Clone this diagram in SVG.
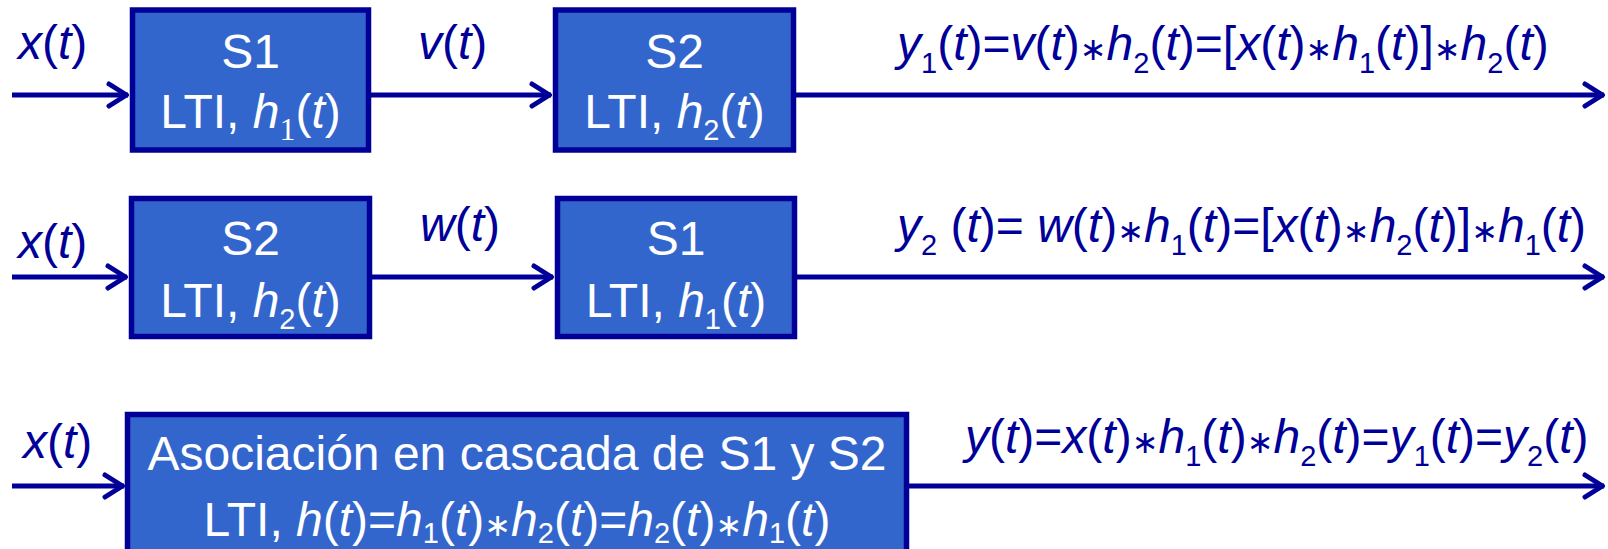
<svg xmlns="http://www.w3.org/2000/svg" width="1608" height="549" viewBox="0 0 1608 549">
<defs>
<style>
.box{fill:#3366cc;stroke:#000099;stroke-width:5.5}
.t{font-family:"Liberation Sans",Arial,sans-serif;font-size:48px}
.lbl{fill:#000099}
.bt{fill:#ffffff;text-anchor:middle}
.i{font-style:italic}
.s{font-size:29px}
.a{font-family:"DejaVu Sans",sans-serif;font-size:32px}
.ser{font-family:"Liberation Serif","Times New Roman",serif;font-size:32px}
.wire{fill:none;stroke:#000099;stroke-width:5;marker-end:url(#arr)}
</style>
<marker id="arr" markerUnits="userSpaceOnUse" markerWidth="30" markerHeight="30" viewBox="-26 -15 30 30" refX="0" refY="0" orient="auto">
<path d="M-19,-11 L-1.5,0 L-19,11" fill="none" stroke="#000099" stroke-width="5" stroke-linecap="round" stroke-linejoin="round"/>
</marker>
</defs>

<g id="connectors">
<line class="wire" x1="12" y1="95" x2="128" y2="95"/>
<line class="wire" x1="371" y1="95" x2="551" y2="95"/>
<line class="wire" x1="796" y1="95" x2="1604" y2="95"/>
<line class="wire" x1="12" y1="277" x2="127" y2="277"/>
<line class="wire" x1="372" y1="277" x2="553" y2="277"/>
<line class="wire" x1="797" y1="277" x2="1604" y2="277"/>
<line class="wire" x1="12" y1="486" x2="124" y2="486"/>
<line class="wire" x1="909" y1="486" x2="1604" y2="486"/>
</g>

<g id="labels">
<text class="t lbl" x="18" y="59"><tspan class="i">x</tspan>(<tspan class="i">t</tspan>)</text>
<text class="t lbl" x="418" y="59"><tspan class="i">v</tspan>(<tspan class="i">t</tspan>)</text>
<text class="t lbl" x="897" y="60"><tspan class="i">y</tspan><tspan class="s" dy="13">1</tspan><tspan dy="-13">(</tspan><tspan class="i">t</tspan>)=<tspan class="i">v</tspan>(<tspan class="i">t</tspan>)<tspan class="a">∗</tspan><tspan class="i">h</tspan><tspan class="s" dy="13">2</tspan><tspan dy="-13">(</tspan><tspan class="i">t</tspan>)=[<tspan class="i">x</tspan>(<tspan class="i">t</tspan>)<tspan class="a">∗</tspan><tspan class="i">h</tspan><tspan class="s" dy="13">1</tspan><tspan dy="-13">(</tspan><tspan class="i">t</tspan>)]<tspan class="a">∗</tspan><tspan class="i">h</tspan><tspan class="s" dy="13">2</tspan><tspan dy="-13">(</tspan><tspan class="i">t</tspan>)</text>

<text class="t lbl" x="18" y="258"><tspan class="i">x</tspan>(<tspan class="i">t</tspan>)</text>
<text class="t lbl" x="420" y="241"><tspan class="i">w</tspan>(<tspan class="i">t</tspan>)</text>
<text class="t lbl" x="897" y="242" xml:space="preserve"><tspan class="i">y</tspan><tspan class="s" dy="13">2</tspan><tspan dy="-13"> (</tspan><tspan class="i">t</tspan>)= <tspan class="i">w</tspan>(<tspan class="i">t</tspan>)<tspan class="a">∗</tspan><tspan class="i">h</tspan><tspan class="s" dy="13">1</tspan><tspan dy="-13">(</tspan><tspan class="i">t</tspan>)=[<tspan class="i">x</tspan>(<tspan class="i">t</tspan>)<tspan class="a">∗</tspan><tspan class="i">h</tspan><tspan class="s" dy="13">2</tspan><tspan dy="-13">(</tspan><tspan class="i">t</tspan>)]<tspan class="a">∗</tspan><tspan class="i">h</tspan><tspan class="s" dy="13">1</tspan><tspan dy="-13">(</tspan><tspan class="i">t</tspan>)</text>

<text class="t lbl" x="23" y="458"><tspan class="i">x</tspan>(<tspan class="i">t</tspan>)</text>
<text class="t lbl" x="965" y="453"><tspan class="i">y</tspan>(<tspan class="i">t</tspan>)=<tspan class="i">x</tspan>(<tspan class="i">t</tspan>)<tspan class="a">∗</tspan><tspan class="i">h</tspan><tspan class="s" dy="13">1</tspan><tspan dy="-13">(</tspan><tspan class="i">t</tspan>)<tspan class="a">∗</tspan><tspan class="i">h</tspan><tspan class="s" dy="13">2</tspan><tspan dy="-13">(</tspan><tspan class="i">t</tspan>)=<tspan class="i">y</tspan><tspan class="s" dy="13">1</tspan><tspan dy="-13">(</tspan><tspan class="i">t</tspan>)=<tspan class="i">y</tspan><tspan class="s" dy="13">2</tspan><tspan dy="-13">(</tspan><tspan class="i">t</tspan>)</text>
</g>

<g id="r1-s1">
<rect class="box" x="132.5" y="10" width="236" height="140"/>
<text class="t bt" x="250.5" y="68">S1</text>
<text class="t bt" x="250.5" y="128">LTI, <tspan class="i">h</tspan><tspan class="ser" dy="12">1</tspan><tspan dy="-12">(</tspan><tspan class="i">t</tspan>)</text>
</g>

<g id="r1-s2">
<rect class="box" x="555.5" y="10" width="238" height="140"/>
<text class="t bt" x="674.5" y="68">S2</text>
<text class="t bt" x="674.5" y="128">LTI, <tspan class="i">h</tspan><tspan class="s" dy="12">2</tspan><tspan dy="-12">(</tspan><tspan class="i">t</tspan>)</text>
</g>

<g id="r2-s2">
<rect class="box" x="131.5" y="198.5" width="238" height="138"/>
<text class="t bt" x="250.5" y="255">S2</text>
<text class="t bt" x="250.5" y="317">LTI, <tspan class="i">h</tspan><tspan class="s" dy="12">2</tspan><tspan dy="-12">(</tspan><tspan class="i">t</tspan>)</text>
</g>

<g id="r2-s1">
<rect class="box" x="557.5" y="198.5" width="237" height="138"/>
<text class="t bt" x="676" y="255">S1</text>
<text class="t bt" x="676" y="317">LTI, <tspan class="i">h</tspan><tspan class="s" dy="12">1</tspan><tspan dy="-12">(</tspan><tspan class="i">t</tspan>)</text>
</g>

<g id="r3-cascade">
<rect class="box" x="127.5" y="414.5" width="779" height="200"/>
<text class="t bt" x="517" y="470">Asociación en cascada de S1 y S2</text>
<text class="t bt" x="517" y="536">LTI, <tspan class="i">h</tspan>(<tspan class="i">t</tspan>)=<tspan class="i">h</tspan><tspan class="s" dy="7">1</tspan><tspan dy="-7">(</tspan><tspan class="i">t</tspan>)<tspan class="a">∗</tspan><tspan class="i">h</tspan><tspan class="s" dy="7">2</tspan><tspan dy="-7">(</tspan><tspan class="i">t</tspan>)=<tspan class="i">h</tspan><tspan class="s" dy="7">2</tspan><tspan dy="-7">(</tspan><tspan class="i">t</tspan>)<tspan class="a">∗</tspan><tspan class="i">h</tspan><tspan class="s" dy="7">1</tspan><tspan dy="-7">(</tspan><tspan class="i">t</tspan>)</text>
</g>
</svg>
